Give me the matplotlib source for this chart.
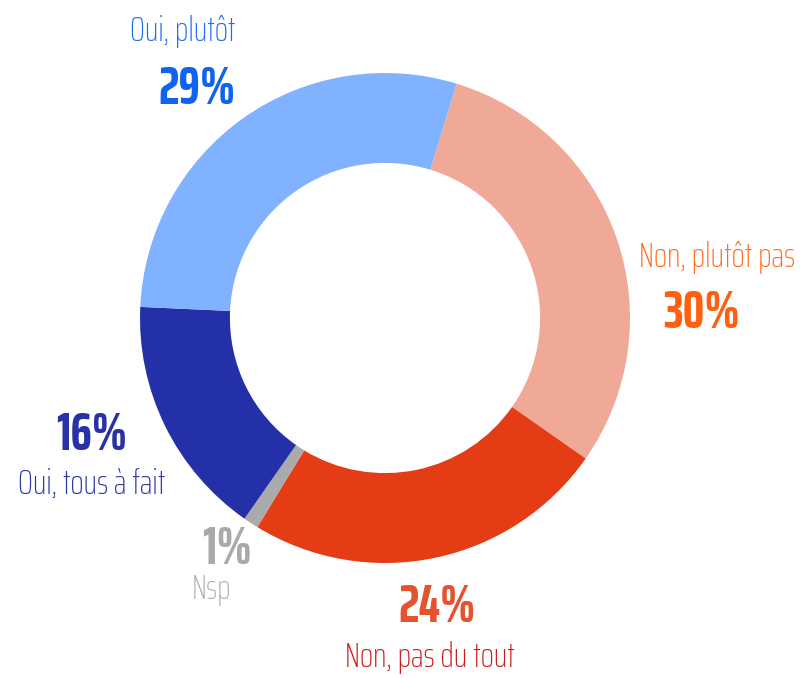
import matplotlib
matplotlib.use("Agg")
import matplotlib.pyplot as plt

categories = ["Non, plutôt pas", "Non, pas du tout", "Nsp", "Oui, tous à fait", "Oui, plutôt"]
values = [30, 24, 1, 16, 29]
pct_labels = ["30%", "24%", "1%", "16%", "29%"]

slice_colors = ["#f0a996", "#e43c14", "#aaaaaa", "#2430a8", "#80b2ff"]
pct_colors = ["#ff5f0f", "#e5532e", "#a9a9a9", "#2832a6", "#0f63f0"]
name_colors = ["#ff6a1c", "#c81a1a", "#b0b0b0", "#2a35a8", "#1a6cf0"]

fam = ["Saira ExtraCondensed", "DejaVu Sans"]

W, H = 800, 678
fig = plt.figure(figsize=(W / 100, H / 100), dpi=100)
cx, cy, R = 385, 318, 245
ax = fig.add_axes([(cx - R) / W, (H - cy - R) / H, 2 * R / W, 2 * R / H])
ax.pie(values, colors=slice_colors, startangle=73, counterclock=False,
       wedgeprops=dict(width=0.367, edgecolor="none"), radius=1)
ax.set_xlim(-1, 1)
ax.set_ylim(-1, 1)
ax.set_aspect("equal")
ax.axis("off")

# label layout (pixel coords of centers): (name_xy, pct_xy)
layout = {
    0: ((717, 258), (702, 313)),
    1: ((430, 657), (437, 607)),
    2: ((212, 590), (227, 550)),
    3: ((92, 484), (92, 435)),
    4: ((183, 31), (197, 90)),
}
for i in range(len(values)):
    (nx, ny), (px, py) = layout[i]
    fig.text(nx / W, 1 - ny / H, categories[i], color=name_colors[i], fontsize=25,
             ha="center", va="center", family=fam, fontweight="light")
    fig.text(px / W, 1 - py / H, pct_labels[i], color=pct_colors[i], fontsize=39,
             fontweight="bold", ha="center", va="center", family=fam)

fig.savefig("out.png", dpi=100, facecolor="white")
